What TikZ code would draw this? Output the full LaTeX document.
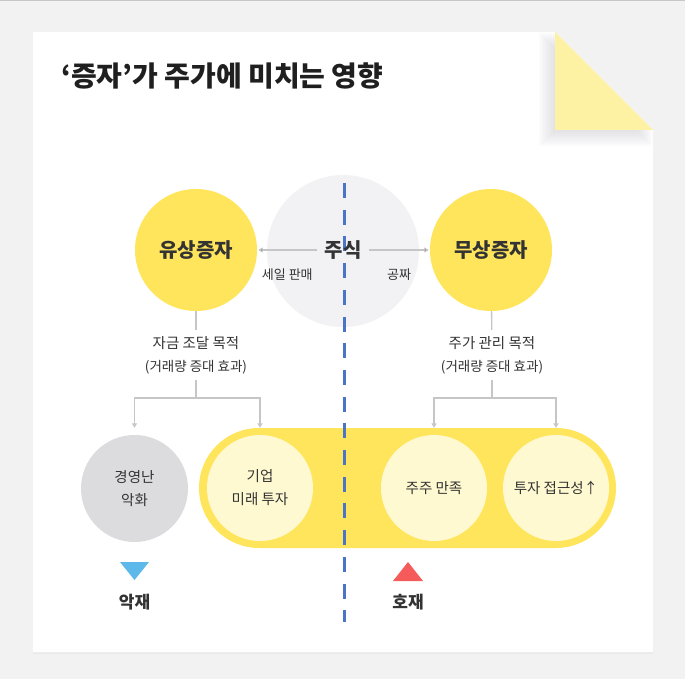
\documentclass[tikz,border=0pt]{standalone}
\usepackage{fontspec}
\setmainfont{Noto Sans CJK KR}
\usetikzlibrary{arrows.meta, positioning, shadows}
\definecolor{bggray}{HTML}{F2F2F2}
\definecolor{sunny}{HTML}{FFE55C}
\definecolor{pale}{HTML}{FFF9D1}
\definecolor{foldy}{HTML}{FDF2A3}
\definecolor{stockgray}{HTML}{F2F2F5}
\definecolor{badgray}{HTML}{DCDCDE}
\definecolor{ink}{HTML}{333333}
\definecolor{wire}{HTML}{C6C6C6}
\definecolor{splitblue}{HTML}{4A74C8}
\definecolor{badblue}{HTML}{5CB9EA}
\definecolor{goodred}{HTML}{F65B5B}
\definecolor{foldshade}{HTML}{5A5A80}
\tikzset{x = 1pt, y = -1pt,
         >= {Triangle[length = 4.5pt, width = 5pt]},
         every node/.style = {text = ink},
         bigcircle/.style = {circle, fill = sunny, minimum size = 122pt, inner sep = 0pt,
                             font = \bfseries\fontsize{20}{24}\selectfont},
         smallcircle/.style = {circle, fill = pale, minimum size = 106pt, inner sep = 0pt,
                               align = center, font = \fontsize{14.5}{23}\selectfont},
         purpose/.style = {align = center, inner xsep = 2pt, inner ysep = 6pt,
                           font = \fontsize{14.5}{23}\selectfont},
         sublabel/.style = {font = \fontsize{13}{16}\selectfont},
         verdict/.style = {font = \bfseries\fontsize{17}{20}\selectfont},
         wireline/.style = {draw = wire, line width = 1.3pt}}

\begin{document}
\begin{tikzpicture}
        \useasboundingbox (0,0) rectangle (685,679);
        \fill[bggray] (0,0) rectangle (685,679);
        \fill[black!22] (0,0) rectangle (685,1.5);
        \fill[white, drop shadow = {shadow xshift = 0pt, shadow yshift = -2pt, opacity = .06}]
              (33,32) -- (555,32) -- (653,130) -- (653,652) -- (33,652) -- cycle;
        \begin{scope}
          \clip (33,32) -- (555,32) -- (653,130) -- (653,652) -- (33,652) -- cycle;
          \foreach \d in {2,4,...,16}
            \fill[foldshade, opacity = .018]
                  (555-\d,32) -- (555-\d,130+\d) -- (653,130+\d) -- cycle;
        \end{scope}
        \fill[foldy] (555,32) -- (555,130) -- (653,130) -- cycle;

        \node[anchor = west, inner sep = 0pt, text = black!88,
              font = \bfseries\fontsize{28}{32}\selectfont] (title) at (61,76) {‘증자’가 주가에 미치는 영향};

        \fill[sunny, rounded corners = 60pt] (199,428) rectangle (616,548);

        \node[circle, fill = stockgray, minimum size = 152pt] (stock) at (343,251) {};
        \node[bigcircle] (yusang) at (196,250) {유상증자};
        \node[bigcircle] (musang) at (491,250) {무상증자};

        \node[circle, fill = badgray, minimum size = 107pt, inner sep = 0pt, align = center,
              font = \fontsize{14.5}{23}\selectfont] (crisis) at (134.5,488.5) {경영난\\악화};
        \node[smallcircle] (future)  at (260,488) {기업\\미래 투자};
        \node[smallcircle] (holders) at (434,488) {주주 만족};
        \node[smallcircle] (access)  at (556,488) {투자 접근성↑};

        \draw[splitblue, line width = 3pt, dash pattern = on 15pt off 11.7pt] (344,183) -- (344,622);

        \node[font = \bfseries\fontsize{20}{24}\selectfont, inner xsep = 7pt] (stockLbl) at (343,250) {주식};

        \path[wireline, ->, shorten >= 1pt] (stockLbl) edge node[sublabel, yshift = -25pt] {세일 판매} (yusang);
        \path[wireline, ->, shorten >= 1pt] (stockLbl) edge node[sublabel, yshift = -25pt] {공짜} (musang);

        \node[purpose] (yuWhy) at (196,355) {자금 조달 목적\\{\fontsize{13.5}{23}\selectfont(거래량 증대 효과)}};
        \node[purpose] (muWhy) at (492,355) {주가 관리 목적\\{\fontsize{13.5}{23}\selectfont(거래량 증대 효과)}};

        \coordinate (yuSplit) at (196,398);
        \coordinate (muSplit) at (492,398);

        \draw[wireline] (yusang) -- (yuWhy);
        \draw[wireline] (yuWhy) -- (yuSplit);
        \draw[wireline, ->, shorten >= 7pt] (yuSplit) -| (crisis);
        \draw[wireline, ->, shorten >= 7pt] (yuSplit) -| (future);

        \draw[wireline] (musang) -- (muWhy);
        \draw[wireline] (muWhy) -- (muSplit);
        \draw[wireline, ->, shorten >= 7pt] (muSplit) -| (holders);
        \draw[wireline, ->, shorten >= 7pt] (muSplit) -| (access);

        \fill[badblue]  (120,562) -- (149,562) -- (134.5,580) -- cycle;
        \fill[goodred]  (393,581) -- (423,581) -- (408,562) -- cycle;
        \node[verdict] (bad)  at (134.5,602) {악재};
        \node[verdict] (good) at (408,602) {호재};
\end{tikzpicture}
\end{document}
